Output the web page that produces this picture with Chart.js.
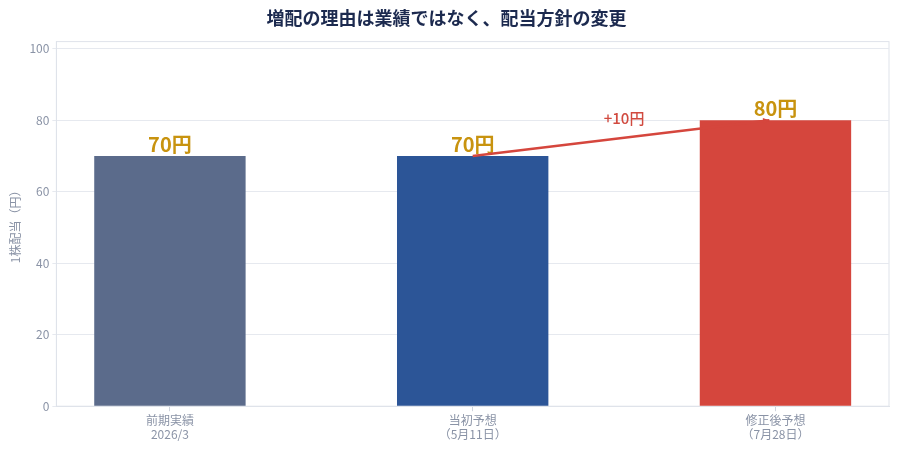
<!DOCTYPE html>
<html>
<head>
<meta charset="utf-8">
<script src="https://cdn.jsdelivr.net/npm/chart.js@4"></script>
<style>
  html, body { margin: 0; padding: 0; background: #fff; }
  #wrap { width: 900px; height: 450px; }
</style>
</head>
<body>
<div id="wrap"><canvas id="chart"></canvas></div>
<script>
const categories = [["前期実績", "2026/3"], ["当初予想", "（5月11日）"], ["修正後予想", "（7月28日）"]];
const dividends = [70, 70, 80];
const barColors = ["#5b6b8b", "#2c5597", "#d5463d"];
const yTicks = [0, 20, 40, 60, 80, 100];
const arrowFrom = [1, 70];
const arrowTo = [1.98, 80];
const arrowText = "+10円";
const arrowTextAt = [1.5, 80.6];

const FONT = "'Noto Sans CJK JP', 'Noto Sans', sans-serif";

// frame around plot area
const framePlugin = {
  id: "frame",
  beforeDraw(chart) {
    const { ctx, chartArea: a } = chart;
    ctx.save();
    ctx.strokeStyle = "#dfe3ea";
    ctx.lineWidth = 1;
    ctx.strokeRect(a.left, a.top, a.right - a.left, a.bottom - a.top);
    ctx.restore();
  }
};

// value labels above bars + the +10 arrow
const labelPlugin = {
  id: "labels",
  afterDatasetsDraw(chart) {
    const { ctx } = chart;
    const xs = chart.scales.x, ys = chart.scales.y;
    ctx.save();
    ctx.font = "bold 20px " + FONT;
    ctx.fillStyle = "#c8930f";
    ctx.textAlign = "center";
    ctx.textBaseline = "bottom";
    dividends.forEach((v, i) => {
      ctx.fillText(v + "円", xs.getPixelForValue(i), ys.getPixelForValue(v) - 2);
    });

    const x1 = xs.getPixelForValue(arrowFrom[0]), y1 = ys.getPixelForValue(arrowFrom[1]);
    const x2 = xs.getPixelForValue(arrowTo[0]), y2 = ys.getPixelForValue(arrowTo[1]);
    ctx.strokeStyle = "#d5463d";
    ctx.fillStyle = "#d5463d";
    ctx.lineWidth = 2.5;
    ctx.beginPath();
    ctx.moveTo(x1, y1);
    ctx.lineTo(x2, y2);
    ctx.stroke();
    const ang = Math.atan2(y2 - y1, x2 - x1);
    const h = 7;
    ctx.beginPath();
    ctx.moveTo(x2, y2);
    ctx.lineTo(x2 - h * Math.cos(ang - 0.45), y2 - h * Math.sin(ang - 0.45));
    ctx.lineTo(x2 - h * Math.cos(ang + 0.45), y2 - h * Math.sin(ang + 0.45));
    ctx.closePath();
    ctx.fill();

    ctx.font = "500 15px " + FONT;
    ctx.fillStyle = "#d14a3f";
    ctx.textBaseline = "middle";
    ctx.fillText(arrowText, xs.getPixelForValue(arrowTextAt[0]), ys.getPixelForValue(arrowTextAt[1]));
    ctx.restore();
  }
};

new Chart(document.getElementById("chart"), {
  type: "bar",
  data: {
    datasets: [{
      data: dividends.map((v, i) => ({ x: i, y: v })),
      backgroundColor: barColors,
      borderWidth: 0,
      categoryPercentage: 1,
      barPercentage: 0.5
    }]
  },
  options: {
    responsive: true,
    maintainAspectRatio: false,
    animation: false,
    layout: { padding: { left: 4, right: 11, top: 0, bottom: 6 } },
    plugins: {
      legend: { display: false },
      tooltip: { enabled: false },
      title: {
        display: true,
        text: "増配の理由は業績ではなく、配当方針の変更",
        color: "#1c2a4f",
        font: { family: FONT, size: 18, weight: "bold" },
        padding: { top: 7, bottom: 13 }
      }
    },
    scales: {
      x: {
        type: "linear",
        min: -0.375,
        max: 2.375,
        offset: false,
        afterBuildTicks: (s) => { s.ticks = categories.map((c, i) => ({ value: i })); },
        ticks: {
          callback: (v) => categories[v],
          color: "#8a93a6",
          font: { family: FONT, size: 12 },
          maxRotation: 0,
          padding: 2
        },
        grid: { display: true, offset: false, drawOnChartArea: false, tickLength: 5, color: "#cfd4dd" },
        border: { color: "#dfe3ea" }
      },
      y: {
        min: 0,
        max: 102,
        afterBuildTicks: (s) => { s.ticks = yTicks.map(v => ({ value: v })); },
        ticks: {
          color: "#8a93a6",
          font: { family: FONT, size: 12 },
          padding: 3
        },
        grid: { color: "#e6e9ef", tickLength: 4 },
        border: { color: "#dfe3ea" },
        title: {
          display: true,
          text: "1株配当（円）",
          color: "#8a93a6",
          font: { family: FONT, size: 12 },
          padding: { bottom: 4 }
        }
      }
    }
  },
  plugins: [framePlugin, labelPlugin]
});
</script>
</body>
</html>
